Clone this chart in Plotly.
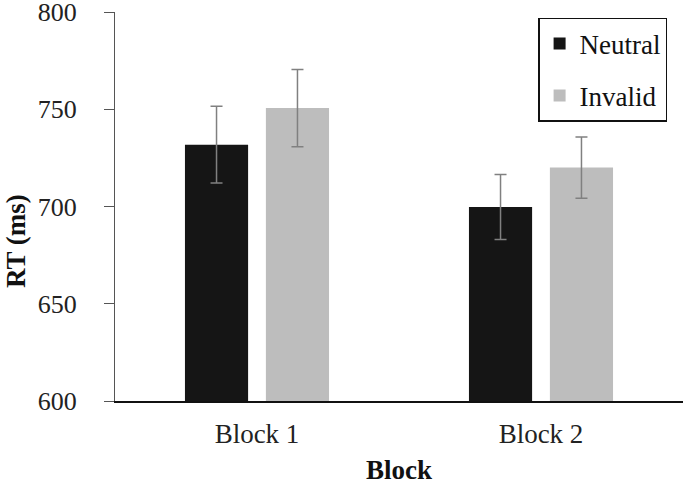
import plotly.graph_objects as go

categories = ["Block 1", "Block 2"]
neutral_rt = [731.8, 699.7]
neutral_err = [19.7, 16.7]
invalid_rt = [750.6, 720.0]
invalid_err = [19.9, 15.8]
y_ticks = [600, 650, 700, 750, 800]

FONT = "Liberation Serif"

fig = go.Figure()
fig.add_trace(go.Bar(
    x=categories, y=neutral_rt, name="Neutral", legendgroup="n",
    marker=dict(color="#151515", line=dict(width=0)),
    error_y=dict(type="data", array=neutral_err, color="#808080", thickness=1.5, width=6),
))
fig.add_trace(go.Bar(
    x=categories, y=invalid_rt, name="Invalid", legendgroup="i",
    marker=dict(color="#bdbdbd", line=dict(width=0)),
    error_y=dict(type="data", array=invalid_err, color="#808080", thickness=1.5, width=6),
))

fig.update_layout(
    width=685, height=485,
    margin=dict(l=115, r=2, t=12, b=84),
    paper_bgcolor="white", plot_bgcolor="white",
    barmode="group", bargap=0.43, bargroupgap=0.22,
    font=dict(family=FONT, size=27, color="#222222"),
    showlegend=True,
    legend=dict(
        x=0.972, xanchor="right", y=0.985, yanchor="top",
        bordercolor="#111111", borderwidth=1.5, bgcolor="white",
        font=dict(family=FONT, size=27, color="#111111"),
        tracegroupgap=14, traceorder="grouped",
    ),
    xaxis=dict(
        showline=True, linecolor="#111111", linewidth=1.5,
        ticks="", showgrid=False, zeroline=False, automargin=False,
        ticklabelstandoff=8,
        tickfont=dict(family=FONT, size=27, color="#222222"),
        title=dict(text="<b>Block</b>", font=dict(family=FONT, size=27, color="#111111"), standoff=20),
    ),
    yaxis=dict(
        range=[600, 800.01], tickvals=y_ticks,
        showline=True, linecolor="#555555", linewidth=1,
        ticks="outside", ticklen=10, tickcolor="#555555", tickwidth=1,
        ticklabelstandoff=22, ticklabeloverflow="allow",
        showgrid=False, zeroline=False, automargin=False,
        tickfont=dict(family=FONT, size=26, color="#222222"),
    ),
    annotations=[dict(
        text="<b>RT (ms)</b>", textangle=-90,
        xref="paper", x=-0.175, xanchor="center",
        yref="paper", y=0.41, yanchor="middle",
        showarrow=False, font=dict(family=FONT, size=27, color="#111111"),
    )],
)

fig.write_html("out.html", config={"displayModeBar": False},
               post_script="document.body.style.margin='0px';")
